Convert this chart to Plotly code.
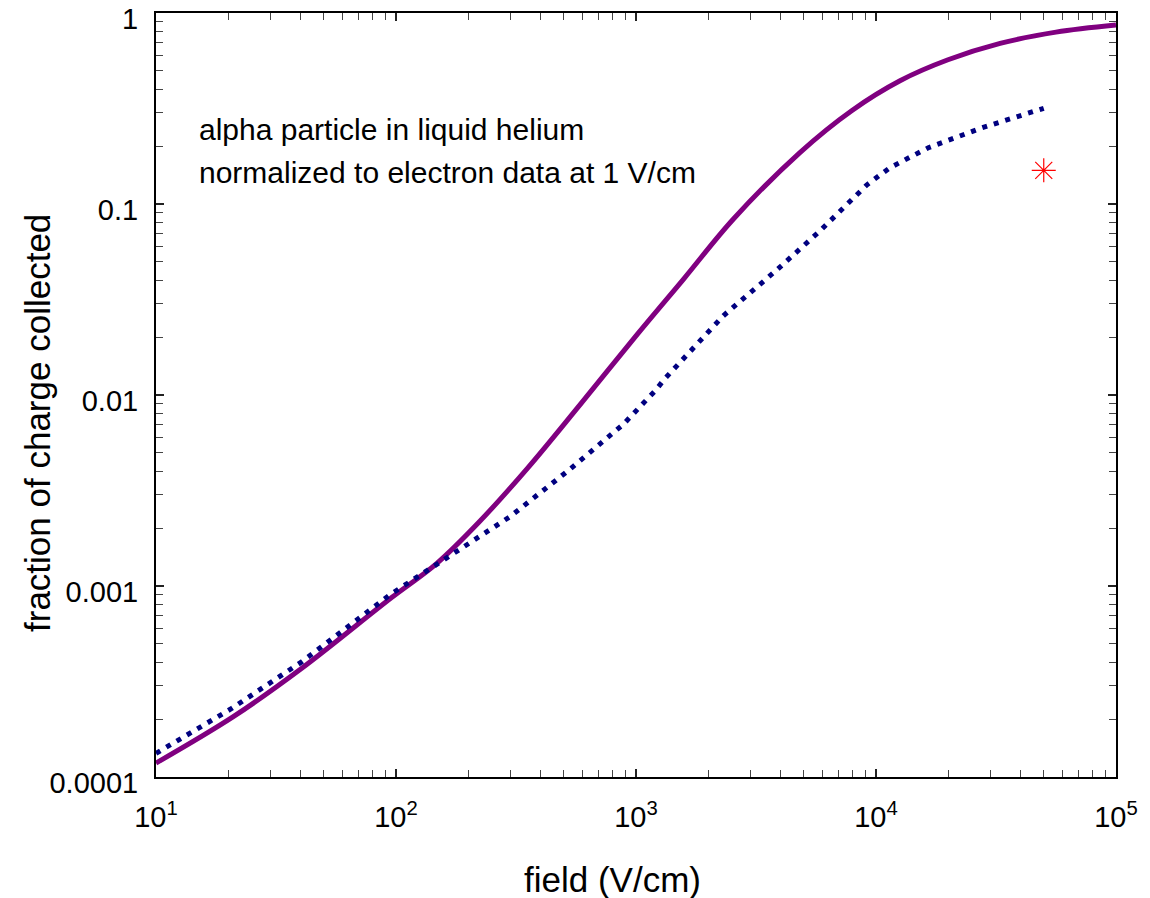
import plotly.graph_objects as go

# Solid curve (purple)
field_solid = [10, 21.0, 40.5, 95.3, 148, 224, 355, 585, 1000, 1585, 2541, 4819, 7943, 12590, 19950, 32890, 56230, 100000]
frac_solid = [1.183e-4, 2.07e-4, 3.71e-4, 8.65e-4, 1.315e-3, 2.19e-3, 4.17e-3, 8.91e-3, 0.0204, 0.0407, 0.0832,
              0.186, 0.309, 0.442, 0.569, 0.693, 0.794, 0.865]

# Dotted curve (navy)
field_dot = [10, 20.5, 40.6, 95.1, 165, 299, 522, 885, 1200, 1321, 2312, 3855, 5848, 9141, 11430, 16520, 27730, 50000]
frac_dot = [1.33e-4, 2.27e-4, 4.02e-4, 9.06e-4, 1.42e-3, 2.31e-3, 4.02e-3, 7.02e-3, 0.0105, 0.0122, 0.026, 0.0451,
            0.0724, 0.1256, 0.155, 0.197, 0.251, 0.317]

# Single measured point (red star)
field_pt = [50000]
frac_pt = [0.15]

x_tickvals = [10, 100, 1000, 10000, 100000]
x_ticktext = ["10<sup>1</sup>", "10<sup>2</sup>", "10<sup>3</sup>", "10<sup>4</sup>", "10<sup>5</sup>"]
y_tickvals = [1e-4, 1e-3, 1e-2, 1e-1, 1]
y_ticktext = ["0.0001", "0.001", "0.01", "0.1", "1"]

note_lines = ["alpha particle in liquid helium", "normalized to electron data at 1 V/cm"]
x_title = "field (V/cm)"
y_title = "fraction of charge collected"

FONT = "Liberation Sans, Arial, sans-serif"

fig = go.Figure()
fig.add_trace(go.Scatter(x=field_solid, y=frac_solid, mode="lines",
                         line=dict(color="#800080", width=5, shape="spline", smoothing=1.0),
                         showlegend=False))
fig.add_trace(go.Scatter(x=field_dot, y=frac_dot, mode="lines",
                         line=dict(color="#000080", width=5, dash="5px,7px"),
                         showlegend=False))
fig.add_trace(go.Scatter(x=field_pt, y=frac_pt, mode="markers",
                         marker=dict(symbol="asterisk-open", size=20, color="red",
                                     line=dict(color="red", width=1.2)),
                         showlegend=False))

minor_x = [m * 10 ** e for e in range(1, 5) for m in range(2, 10)]
minor_y = [m * 10.0 ** e for e in range(-4, 0) for m in range(2, 10)]

fig.update_xaxes(type="log", range=[1, 5], tickvals=x_tickvals, ticktext=x_ticktext,
                 ticks="inside", ticklen=8, tickwidth=1.5, tickcolor="#222",
                 showline=True, linecolor="black", linewidth=2, mirror="ticks",
                 showgrid=False, zeroline=False, ticklabeloverflow="allow", automargin=False,
                 ticklabelstandoff=13,
                 minor=dict(tickvals=minor_x, ticks="inside", ticklen=7, tickwidth=1.2,
                            tickcolor="#444", showgrid=False),
                 tickfont=dict(family=FONT, size=29, color="black"))
fig.update_yaxes(type="log", range=[-4, 0], tickvals=y_tickvals, ticktext=y_ticktext,
                 ticks="inside", ticklen=8, tickwidth=1.5, tickcolor="#222",
                 showline=True, linecolor="black", linewidth=2, mirror="ticks",
                 showgrid=False, zeroline=False, ticklabeloverflow="allow", automargin=False,
                 ticklabelstandoff=10, ticklabelshift=6,
                 minor=dict(tickvals=minor_y, ticks="inside", ticklen=7, tickwidth=1.2,
                            tickcolor="#444", showgrid=False),
                 tickfont=dict(family=FONT, size=29, color="black"))

for i, t in enumerate(note_lines):
    fig.add_annotation(text=t, xref="paper", yref="paper", x=0.0427, y=[0.847, 0.7906][i],
                       xanchor="left", yanchor="middle", showarrow=False,
                       font=dict(family=FONT, size=30, color="black"))

fig.add_annotation(text=x_title, xref="paper", yref="paper", x=0.476, y=-0.1348,
                   xanchor="center", yanchor="middle", showarrow=False,
                   font=dict(family=FONT, size=35, color="black"))
fig.add_annotation(text=y_title, xref="paper", yref="paper", x=-0.1229, y=0.4634,
                   xanchor="center", yanchor="middle", showarrow=False, textangle=-90,
                   font=dict(family=FONT, size=35, color="black"))

fig.update_layout(width=1150, height=898, margin=dict(l=156, r=34, t=13, b=121, autoexpand=False),
                  plot_bgcolor="white", paper_bgcolor="white")

fig.write_html("out.html")
